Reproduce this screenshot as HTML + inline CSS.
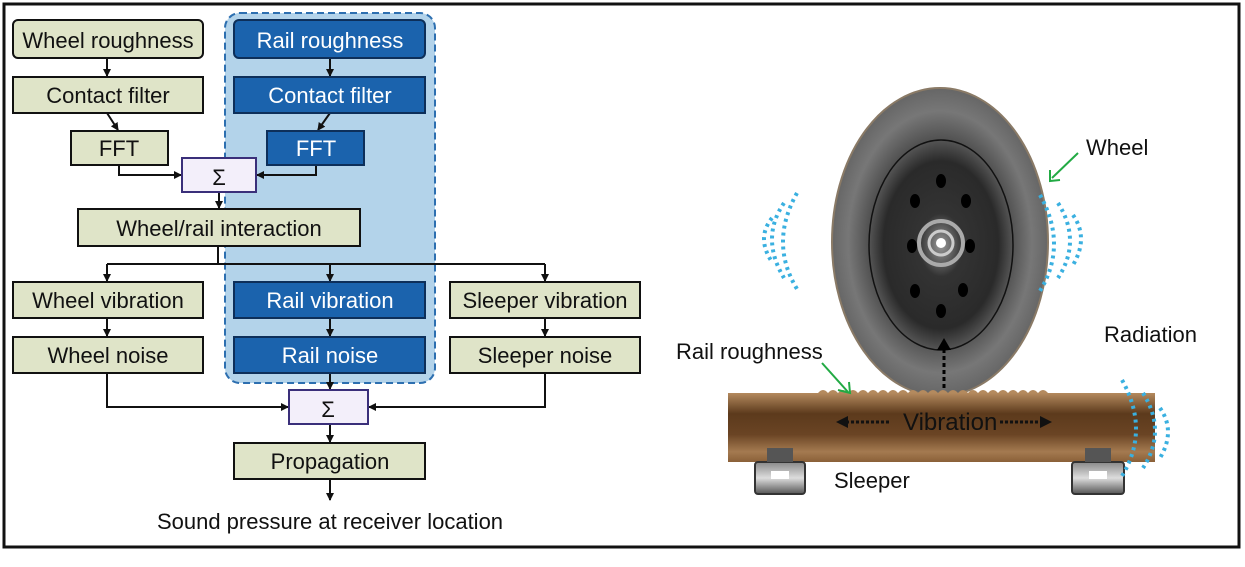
<!DOCTYPE html>
<html><head><meta charset="utf-8"><style>
body{margin:0;width:1245px;height:562px;background:#fff;overflow:hidden;font-family:"Liberation Sans",sans-serif}
svg text{font-family:"Liberation Sans",sans-serif}
</style></head><body>
<svg width="1245" height="562" viewBox="0 0 1245 562">
<defs>
<marker id="a" markerWidth="8" markerHeight="8" refX="7" refY="4" orient="auto" markerUnits="userSpaceOnUse"><path d="M0,0L8,4L0,8z" fill="#111"/></marker>
<radialGradient id="wg" cx="0.5" cy="0.5" r="0.5"><stop offset="0" stop-color="#222"/><stop offset="0.6" stop-color="#444"/><stop offset="0.85" stop-color="#777"/><stop offset="1" stop-color="#666"/></radialGradient>
<radialGradient id="ig" cx="0.5" cy="0.5" r="0.5"><stop offset="0" stop-color="#999"/><stop offset="0.3" stop-color="#333"/><stop offset="0.8" stop-color="#2a2a2a"/><stop offset="1" stop-color="#555"/></radialGradient>
<linearGradient id="rg" x1="0" y1="0" x2="0" y2="1"><stop offset="0" stop-color="#b48a5e"/><stop offset="0.3" stop-color="#5c3a1c"/><stop offset="0.6" stop-color="#6a4424"/><stop offset="0.85" stop-color="#a47a50"/><stop offset="1" stop-color="#8a6038"/></linearGradient>
<linearGradient id="sg" x1="0" y1="0" x2="0" y2="1"><stop offset="0" stop-color="#888"/><stop offset="0.5" stop-color="#ddd"/><stop offset="1" stop-color="#555"/></linearGradient>
</defs>
<rect x="4" y="4" width="1235" height="543" fill="#fff" stroke="#111" stroke-width="3"/>
<rect x="225" y="13" width="210" height="370" rx="15" fill="#b3d3ea" stroke="#2d6fb0" stroke-width="2" stroke-dasharray="7,4"/>
<g stroke="#111" stroke-width="2" fill="none">
<line x1="107" y1="58" x2="107" y2="76" marker-end="url(#a)"/>
<line x1="107" y1="113" x2="118" y2="130" marker-end="url(#a)"/>
<line x1="330" y1="58" x2="330" y2="76" marker-end="url(#a)"/>
<line x1="330" y1="113" x2="318" y2="130" marker-end="url(#a)"/>
<polyline points="119,165 119,175 181,175" marker-end="url(#a)"/>
<polyline points="316,165 316,175 257,175" marker-end="url(#a)"/>
<line x1="219" y1="192" x2="219" y2="208" marker-end="url(#a)"/>
<polyline points="218,246 218,264"/>
<line x1="107" y1="264" x2="545" y2="264"/>
<line x1="107" y1="264" x2="107" y2="281" marker-end="url(#a)"/>
<line x1="330" y1="264" x2="330" y2="281" marker-end="url(#a)"/>
<line x1="545" y1="264" x2="545" y2="281" marker-end="url(#a)"/>
<line x1="107" y1="318" x2="107" y2="336" marker-end="url(#a)"/>
<line x1="330" y1="318" x2="330" y2="336" marker-end="url(#a)"/>
<line x1="545" y1="318" x2="545" y2="336" marker-end="url(#a)"/>
<polyline points="107,373 107,407 288,407" marker-end="url(#a)"/>
<polyline points="545,373 545,407 369,407" marker-end="url(#a)"/>
<line x1="330" y1="373" x2="330" y2="389" marker-end="url(#a)"/>
<line x1="330" y1="424" x2="330" y2="442" marker-end="url(#a)"/>
<line x1="330" y1="479" x2="330" y2="500" marker-end="url(#a)"/>
</g>
<g stroke="#111" stroke-width="2" fill="#dfe4c8">
<rect x="13" y="20" width="190" height="38" rx="5"/>
<rect x="13" y="77" width="190" height="36"/>
<rect x="71" y="131" width="97" height="34"/>
<rect x="78" y="209" width="282" height="37"/>
<rect x="13" y="282" width="190" height="36"/>
<rect x="450" y="282" width="190" height="36"/>
<rect x="13" y="337" width="190" height="36"/>
<rect x="450" y="337" width="190" height="36"/>
<rect x="234" y="443" width="191" height="36"/>
</g>
<g stroke="#0d2f5a" stroke-width="2" fill="#1b63ad">
<rect x="234" y="20" width="191" height="38" rx="5"/>
<rect x="234" y="77" width="191" height="36"/>
<rect x="267" y="131" width="97" height="34"/>
<rect x="234" y="282" width="191" height="36"/>
<rect x="234" y="337" width="191" height="36"/>
</g>
<g stroke="#3a2f7a" stroke-width="2" fill="#f3effa">
<rect x="182" y="158" width="74" height="34"/>
<rect x="289" y="390" width="79" height="34"/>
</g>
<g font-size="22" text-anchor="middle" fill="#111">
<text x="108" y="48">Wheel roughness</text>
<text x="108" y="103">Contact filter</text>
<text x="119" y="156">FFT</text>
<text x="219" y="185">Σ</text>
<text x="219" y="236">Wheel/rail interaction</text>
<text x="108" y="308">Wheel vibration</text>
<text x="545" y="308">Sleeper vibration</text>
<text x="108" y="363">Wheel noise</text>
<text x="545" y="363">Sleeper noise</text>
<text x="328" y="417">Σ</text>
<text x="330" y="469">Propagation</text>
<text x="330" y="529">Sound pressure at receiver location</text>
</g>
<g font-size="22" text-anchor="middle" fill="#fff">
<text x="330" y="48">Rail roughness</text>
<text x="330" y="103">Contact filter</text>
<text x="316" y="156">FFT</text>
<text x="330" y="308">Rail vibration</text>
<text x="330" y="363">Rail noise</text>
</g>
<!-- right illustration -->
<ellipse cx="940" cy="242" rx="108" ry="154" fill="url(#wg)" stroke="#8a7a66" stroke-width="2"/>
<ellipse cx="941" cy="245" rx="72" ry="105" fill="url(#ig)" stroke="#111" stroke-width="1.5"/>
<circle cx="941" cy="243" r="22" fill="none" stroke="#aaa" stroke-width="4"/>
<circle cx="941" cy="243" r="12" fill="none" stroke="#ccc" stroke-width="3"/>
<circle cx="941" cy="243" r="5" fill="#fff"/>
<g fill="#000">
<ellipse cx="915" cy="201" rx="5" ry="7"/><ellipse cx="941" cy="181" rx="5" ry="7"/><ellipse cx="966" cy="201" rx="5" ry="7"/>
<ellipse cx="912" cy="246" rx="5" ry="7"/><ellipse cx="970" cy="246" rx="5" ry="7"/>
<ellipse cx="915" cy="291" rx="5" ry="7"/><ellipse cx="963" cy="290" rx="5" ry="7"/><ellipse cx="941" cy="311" rx="5" ry="7"/>
</g>
<rect x="728" y="393" width="427" height="69" fill="url(#rg)"/>
<path d="M818,393 q5,-6 10,0 q5,-6 10,0 q5,-6 10,0 q5,-6 10,0 q5,-6 10,0 q5,-6 10,0 q5,-6 10,0 q5,-6 10,0 q5,-6 10,0 q5,-6 10,0 q5,-6 10,0 q5,-6 10,0 q5,-6 10,0 q5,-6 10,0 q5,-6 10,0 q5,-6 10,0 q5,-6 10,0 q5,-6 10,0 q5,-6 10,0 q5,-6 10,0 q5,-6 10,0 q5,-6 10,0 q5,-6 10,0 z" fill="#b48a5e"/>
<g>
<rect x="755" y="462" width="50" height="32" rx="3" fill="url(#sg)" stroke="#333" stroke-width="2"/>
<rect x="771" y="471" width="18" height="8" fill="#fff"/>
<rect x="767" y="448" width="26" height="14" fill="#555"/>
<rect x="1072" y="462" width="52" height="32" rx="3" fill="url(#sg)" stroke="#333" stroke-width="2"/>
<rect x="1089" y="471" width="18" height="8" fill="#fff"/>
<rect x="1085" y="448" width="26" height="14" fill="#555"/>
</g>
<line x1="944" y1="388" x2="944" y2="347" stroke="#000" stroke-width="3" stroke-dasharray="4,3"/>
<path d="M937,350 L944,338 L951,350z" fill="#000"/>
<line x1="846" y1="422" x2="890" y2="422" stroke="#111" stroke-width="3" stroke-dasharray="3,2"/>
<path d="M836,422 L848,416 L848,428z" fill="#111"/>
<line x1="1000" y1="422" x2="1042" y2="422" stroke="#111" stroke-width="3" stroke-dasharray="3,2"/>
<path d="M1052,422 L1040,416 L1040,428z" fill="#111"/>
<g fill="none" stroke="#3ab0e0" stroke-width="4" stroke-dasharray="3,4">
<path d="M772,218 q-16,20 0,44"/><path d="M784,203 q-24,35 0,75"/><path d="M797,193 q-28,50 0,96"/>
<path d="M1040,195 q28,50 0,96"/><path d="M1058,203 q24,38 0,75"/><path d="M1073,215 q16,23 0,50"/>
<path d="M1122,380 q28,50 0,96"/><path d="M1143,393 q24,38 0,75"/><path d="M1160,408 q16,23 0,50"/>
</g>
<g stroke="#22aa44" stroke-width="2" fill="none">
<line x1="1078" y1="153" x2="1052" y2="178"/><path d="M1050,170 L1050,181 L1060,180"/>
<line x1="822" y1="363" x2="848" y2="392"/><path d="M838,390 L850,393 L849,382"/>
</g>
<g font-size="22" fill="#111">
<text x="1086" y="155">Wheel</text>
<text x="1104" y="342">Radiation</text>
<text x="676" y="359">Rail roughness</text>
<text x="834" y="488">Sleeper</text>
<text x="903" y="430" font-size="24">Vibration</text>
</g>
</svg>
</body></html>
